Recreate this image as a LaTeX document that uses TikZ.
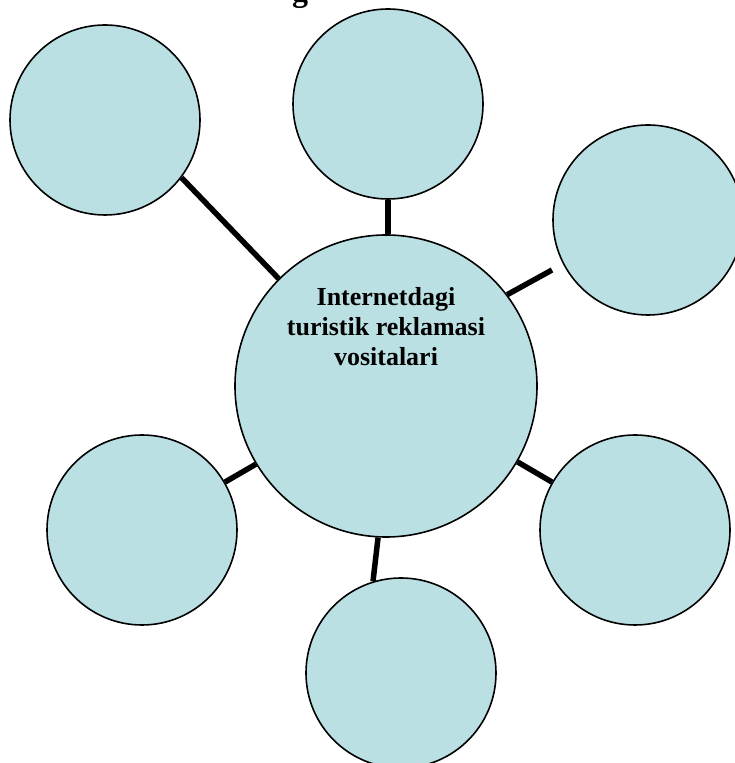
\documentclass[tikz,border=0pt]{standalone}
\usepackage{fontspec}
\setmainfont{Liberation Serif}
\usepackage{xcolor}
\usepackage{tikz}
\definecolor{bubblefill}{RGB}{187,224,227}

\begin{document}
\begin{tikzpicture}[x=1pt, y=1pt,
    bubble/.style={circle, draw=black, line width=1.6pt, fill=bubblefill, minimum size=190pt, inner sep=0pt},
    hubcircle/.style={bubble, minimum size=302pt},
    spoke/.style={line width=5.5pt}]
    \useasboundingbox (0,0) rectangle (735,763);
    \clip (0,0) rectangle (735,763);

    % Title (cut off at the top)
    \node[font=\bfseries\fontsize{32}{36}\selectfont, anchor=base, inner sep=0pt] (title) at (300,761) {g};

    % Satellite circles
    \node[bubble] (topleft) at (105,643) {};
    \node[bubble] (top) at (388,659) {};
    \node[bubble] (right) at (648,543) {};
    \node[bubble] (botleft) at (142,233) {};
    \node[bubble] (botright) at (635,233) {};
    \node[bubble] (bottom) at (401,90) {};

    % Central circle
    \node[hubcircle] (hub) at (386,377) {};
    \node[font=\bfseries\fontsize{26}{30}\selectfont, align=center, inner sep=0pt] (hubtext) at (386,436)
        {Internetdagi\\turistik reklamasi\\vositalari};

    % Spokes
    \coordinate (rightend) at (552,493);
    \draw[spoke] (hub.135) -- (topleft.-37);
    \draw[spoke] (top.south) -- (top.south |- hub.north);
    \draw[spoke] (hub.37.5) -- (rightend);
    \draw[spoke] (hub.211) -- (botleft.30);
    \draw[spoke] (hub.-30.5) -- (botright.150.5);
    \draw[spoke] (hub.267) -- (bottom.107.5);
\end{tikzpicture}
\end{document}
